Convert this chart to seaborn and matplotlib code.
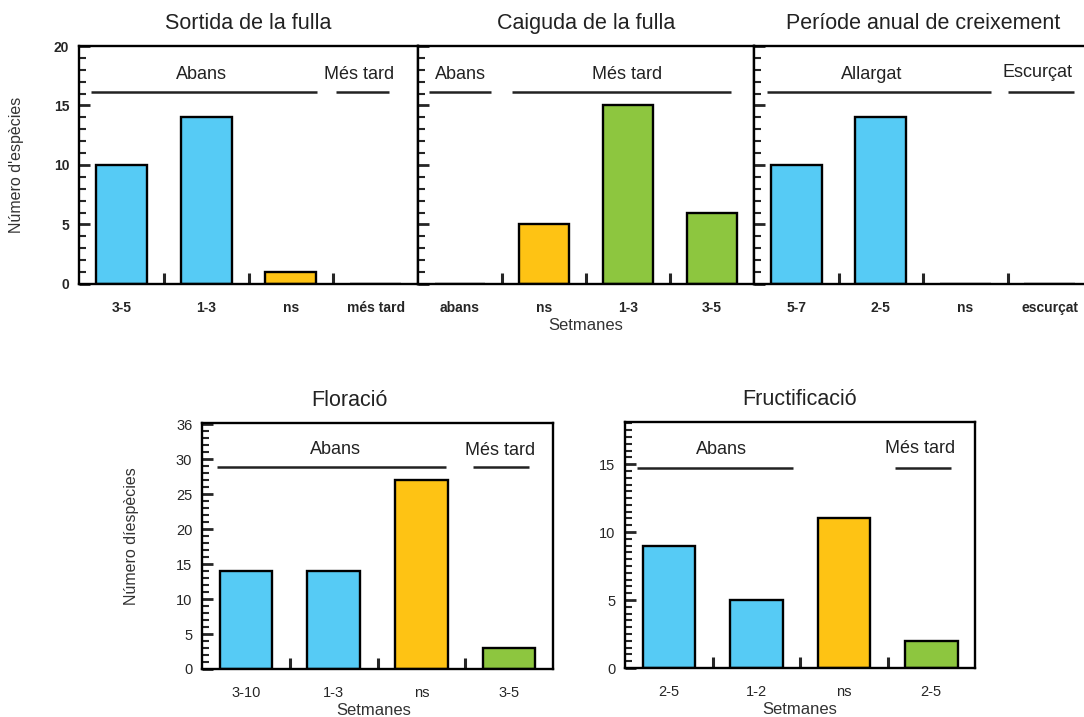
import matplotlib
matplotlib.use("Agg")
import matplotlib.pyplot as plt
import seaborn as sns
import pandas as pd
from matplotlib.ticker import MultipleLocator

sns.set_style("ticks")
plt.rcParams['font.family'] = ['Liberation Sans', 'DejaVu Sans']

BLUE = "#56CBF5"
YELLOW = "#FEC314"
GREEN = "#8DC63F"

# data
sortida_cats = ["3-5", "1-3", "ns", "més tard"]
sortida_vals = [10, 14, 1, 0]
sortida_cols = [BLUE, BLUE, YELLOW, GREEN]

caiguda_cats = ["abans", "ns", "1-3", "3-5"]
caiguda_vals = [0, 5, 15, 6]
caiguda_cols = [BLUE, YELLOW, GREEN, GREEN]

periode_cats = ["5-7", "2-5", "ns", "escurçat"]
periode_vals = [10, 14, 0, 0]
periode_cols = [BLUE, BLUE, YELLOW, GREEN]

floracio_cats = ["3-10", "1-3", "ns", "3-5"]
floracio_vals = [14, 14, 27, 3]
floracio_cols = [BLUE, BLUE, YELLOW, GREEN]

fruct_cats = ["2-5", "1-2", "ns", "2-5"]
fruct_vals = [9, 5, 11, 2]
fruct_cols = [BLUE, BLUE, YELLOW, GREEN]

W, H = 1084, 717
fig = plt.figure(figsize=(W / 100, H / 100), dpi=100)


def px_axes(left, top, right, bottom):
    return fig.add_axes([left / W, 1 - bottom / H, (right - left) / W, (bottom - top) / H])


def draw_panel(ax, cats, vals, cols, title, ymax, major, minor, groups,
               title_x=0.5, tick_weight="normal", tick_size=10.5):
    df = pd.DataFrame({"pos": range(len(cats)), "n": vals})
    sns.barplot(data=df, x="pos", y="n", hue="pos", palette=cols, legend=False,
                width=0.6, edgecolor="black", linewidth=1.7, saturation=1, ax=ax)
    ax.set_xlim(-0.5, len(cats) - 0.5)
    ax.set_ylim(0, ymax)
    ax.set_xticks(range(len(cats)))
    ax.set_xticklabels(cats, fontweight=tick_weight)
    ax.set_xticks([i + 0.5 for i in range(len(cats) - 1)], minor=True)
    ax.tick_params(axis="x", which="major", length=0, pad=12, labelsize=tick_size)
    ax.tick_params(axis="x", which="minor", direction="in", length=8, width=2.2)
    ax.yaxis.set_major_locator(MultipleLocator(major))
    ax.yaxis.set_minor_locator(MultipleLocator(minor))
    ax.tick_params(axis="y", which="major", direction="in", length=8, width=2, pad=7, labelsize=tick_size)
    ax.tick_params(axis="y", which="minor", direction="in", length=5, width=1.5)
    for lab in ax.get_yticklabels():
        lab.set_fontweight(tick_weight)
    ax.set_xlabel("")
    ax.set_ylabel("")
    for s in ax.spines.values():
        s.set_visible(True)
        s.set_linewidth(1.7)
        s.set_color("black")
    ax.set_title(title, fontsize=15.5, color="#222222", pad=12, x=title_x)
    for label, x0, x1, tx, ly, ty in groups:
        ax.plot([x0, x1], [ly, ly], color="#222222", lw=1.8, solid_capstyle="butt")
        ax.text(tx, ty, label, ha="center", va="center", fontsize=13, color="#222222")


top_groups1 = [("Abans", -0.36, 2.31, 0.95, 16.1, 17.6), ("Més tard", 2.53, 3.16, 2.8, 16.1, 17.6)]
top_groups2 = [("Abans", -0.37, 0.37, 0.0, 16.1, 17.6), ("Més tard", 0.62, 3.23, 1.99, 16.1, 17.6)]
top_groups3 = [("Allargat", -0.35, 2.31, 0.89, 16.1, 17.6), ("Escurçat", 2.5, 3.29, 2.85, 16.1, 17.8)]

ax1 = px_axes(79, 46, 418, 284)
draw_panel(ax1, sortida_cats, sortida_vals, sortida_cols, "Sortida de la fulla", 20, 5, 1,
           top_groups1, tick_weight="bold", tick_size=10)
ax1.set_ylabel("Número d'espècies", fontsize=11.5, color="#333333")
ax1.yaxis.set_label_coords(-0.162, 0.5)

ax2 = px_axes(418, 46, 754, 284)
draw_panel(ax2, caiguda_cats, caiguda_vals, caiguda_cols, "Caiguda de la fulla", 20, 5, 1,
           top_groups2, tick_weight="bold", tick_size=10)
ax2.set_yticklabels([])
ax2.set_xlabel("Setmanes", fontsize=12, color="#333333")
ax2.xaxis.set_label_coords(0.5, -0.142)

ax3 = px_axes(754, 46, 1092, 284)
draw_panel(ax3, periode_cats, periode_vals, periode_cols, "Període anual de creixement", 20, 5, 1,
           top_groups3, tick_weight="bold", tick_size=10)
ax3.set_yticklabels([])

bot_groups1 = [("Abans", -0.33, 2.28, 1.02, 28.9, 31.4), ("Més tard", 2.59, 3.23, 2.9, 28.9, 31.3)]
bot_groups2 = [("Abans", -0.36, 1.42, 0.6, 14.7, 16.1), ("Més tard", 2.58, 3.22, 2.87, 14.7, 16.15)]

ax4 = px_axes(202, 423, 553, 669)
draw_panel(ax4, floracio_cats, floracio_vals, floracio_cols, "Floració", 35.2, 5, 1, bot_groups1, title_x=0.42)
floracio_ticks = [0, 5, 10, 15, 20, 25, 30, 35]
floracio_ticklabels = ["0", "5", "10", "15", "20", "25", "30", "36"]
ax4.set_yticks(floracio_ticks)
ax4.set_yticklabels(floracio_ticklabels)
ax4.set_ylabel("Número díespècies", fontsize=11.5, color="#333333")
ax4.yaxis.set_label_coords(-0.18, 0.54)
ax4.set_xlabel("Setmanes", fontsize=12, color="#333333")
ax4.xaxis.set_label_coords(0.49, -0.14)

ax5 = px_axes(625, 422, 975, 668)
draw_panel(ax5, fruct_cats, fruct_vals, fruct_cols, "Fructificació", 18.1, 5, 0.5, bot_groups2)
ax5.set_xlabel("Setmanes", fontsize=12, color="#333333")
ax5.xaxis.set_label_coords(0.5, -0.14)

fig.savefig("out.png", dpi=100)
